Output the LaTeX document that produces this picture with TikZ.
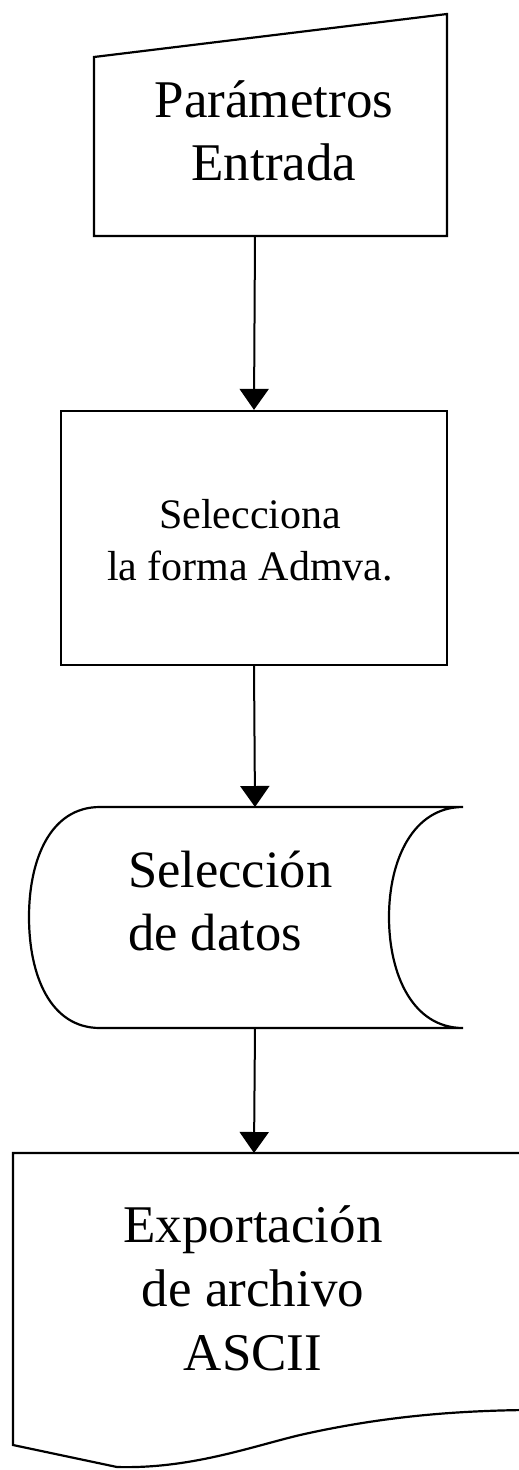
\documentclass[tikz,border=0pt]{standalone}
\usepackage{fontspec}
\setmainfont{Liberation Serif}
\usetikzlibrary{arrows.meta}
\tikzset{
  shapeline/.style={draw=black, line width=2.2pt, line join=miter},
  flow/.style={draw=black, line width=2pt, -{Triangle[width=29pt,length=21pt]}},
  bigtext/.style={inner sep=0pt, anchor=base, align=center, font=\fontsize{53}{63}\selectfont},
  midtext/.style={inner sep=0pt, anchor=base, align=center, font=\fontsize{42}{52}\selectfont},
}
\begin{document}
\begin{tikzpicture}[x=1pt,y=-1pt]
\useasboundingbox (0,0) rectangle (519,1470);
\fill[white] (0,0) rectangle (519,1470);

% Manual input
\draw[shapeline] (94,57) -- (447,14) -- (447,236) -- (94,236) -- cycle;
\node[bigtext] (par) at (274,180) {Parámetros\\Entrada};
\coordinate (inS) at (255,236);

% Process box
\node[shapeline, minimum width=386pt, minimum height=254pt, inner sep=0pt] (sel) at (254,538) {};
\node[midtext] (seltxt) at (250,580) {Selecciona\\la forma Admva.};

% Stored data
\draw[shapeline] (100,807) -- (463,807)
  .. controls (413,807) and (389,860) .. (389,917)
  .. controls (389,975) and (413,1028) .. (463,1028)
  -- (100,1028)
  .. controls (50,1028) and (29,975) .. (29,917)
  .. controls (29,860) and (50,807) .. (100,807) -- cycle;
\node[bigtext, anchor=base west, align=left, font=\fontsize{52.5}{63}\selectfont] (dat) at (128,950) {Selección\\de datos};
\coordinate (datN) at (255,807);
\coordinate (datS) at (255,1028);

% Document
\draw[shapeline] (524,1153) -- (13,1153) -- (13,1445) -- (117,1467)
  .. controls (190,1469) and (250,1447) .. (300,1435)
  .. controls (380,1417) and (450,1411) .. (524,1410);
\node[bigtext, font=\fontsize{53}{64}\selectfont] (exp) at (253,1370) {Exportación\\de archivo\\ASCII};
\coordinate (expN) at (254,1153);

% Connectors
\draw[flow] (inS) -- (sel.north);
\draw[flow] (sel.south) -- (datN);
\draw[flow] (datS) -- (expN);
\end{tikzpicture}
\end{document}
